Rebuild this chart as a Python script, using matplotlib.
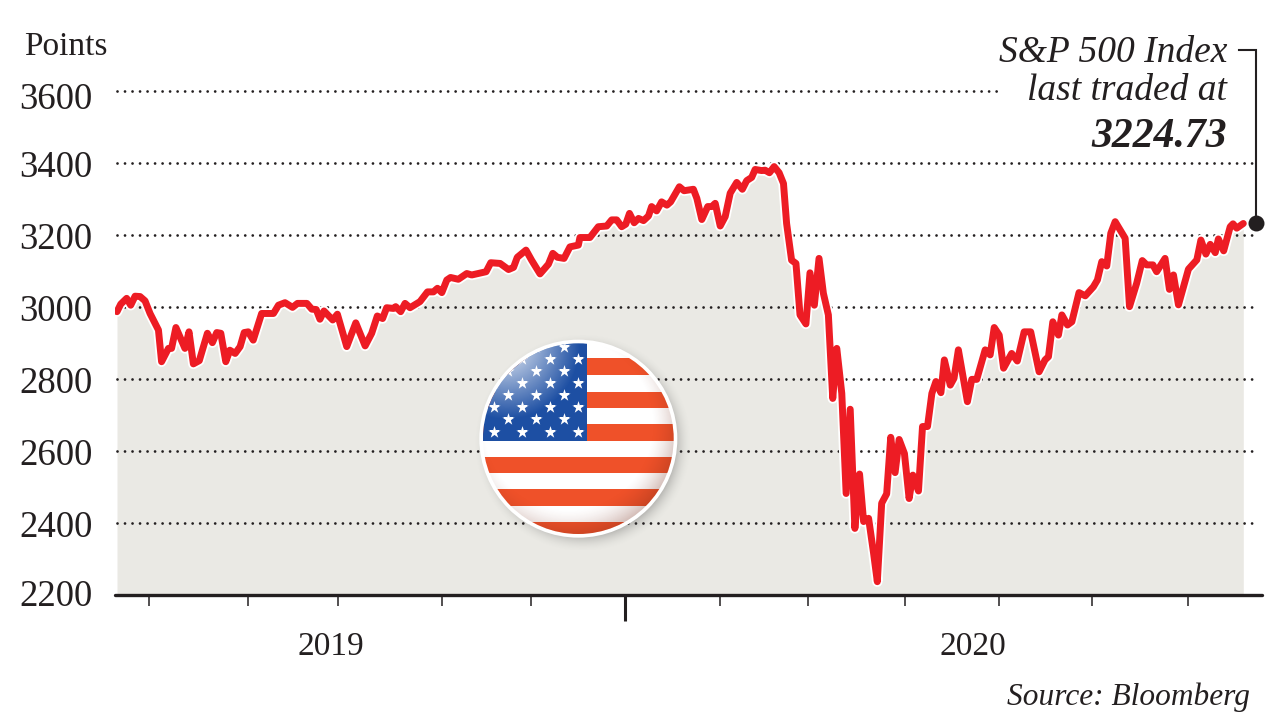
import numpy as np
import matplotlib
matplotlib.use("Agg")
import matplotlib.pyplot as plt
import matplotlib.patheffects as pe
from matplotlib.lines import Line2D
from matplotlib.patches import Circle, Rectangle

# ---- data: days since 22 Jul 2019, index level ----
days = [0,1.2,3.1,4.4,5.8,7.4,9,10.6,13.3,14.3,16.5,17.5,18.9,21.8,23.1,24.5,26.4,29,30.6,32,33.3,34.9,36.2,37.9,39.5,40.8,42.1,43.7,46.4,50.2,51.8,53.9,56.3,57.9,60.9,62.5,63.9,65.1,66.4,69.2,70.7,73.7,76.6,79.6,81.7,83.5,85.2,86.5,88.7,89.4,91,92.4,94,97.2,99.6,101.5,102.8,104.2,105.8,107,109.5,112.2,113.8,118.4,119.9,122.9,125.6,127.2,128.4,131.2,133,135.7,138.4,139.8,141.3,143.4,145.3,148,148.5,151.7,154.4,157.1,158.7,160.3,161.9,163.2,164.4,165.9,167.3,168.9,170.5,171.5,173.1,174.7,176.4,177.6,180.4,181.9,184.9,186,187.6,189.5,190.8,191.9,193.5,195.1,196.7,198.8,200.6,202,203.6,204.7,206.8,207.9,209.3,210.8,212.4,213.8,214.8,216.4,217.8,219.1,221,222.3,223.7,225.2,226.6,228.2,229.6,230.9,232.5,233.9,235.2,236.7,238.2,239.5,241.1,242.7,243.9,245.3,246.9,248.2,249.6,250.9,252.6,254.1,255.3,257.1,258.4,260,261.4,262.7,264.3,265.4,267.3,268.5,269.9,272.8,274.2,275.8,278.5,280.1,281.4,283,284.4,287,288.8,291,293.1,295.8,297.7,298.8,300.2,302,303.1,304.9,306.3,308.6,310.6,313.2,314.5,315.9,317.5,318.8,320.2,323.4,324.8,327.1,328.9,330.3,332.3,333.5,336.2,337.6,338.9,340.5,343.7,346.4,347.7,349.3,350.7,352.3,353.3,355,357.1,358,359.2,361.3]
index_level = [2987,3008,3024,3005,3030,3029,3017,2982,2936,2848,2885,2885,2943,2885,2931,2842,2851,2927,2901,2929,2927,2848,2880,2871,2890,2929,2931,2908,2982,2982,3005,3012,2999,3010,3010,2994,2993,2966,2989,2964,2980,2890,2956,2892,2927,2975,2968,2998,2996,3001,2987,3010,2998,3015,3042,3042,3052,3040,3075,3082,3077,3093,3089,3098,3123,3121,3104,3110,3138,3158,3130,3092,3119,3149,3138,3135,3167,3172,3193,3193,3223,3225,3242,3242,3223,3230,3260,3234,3246,3240,3253,3279,3267,3292,3283,3292,3334,3323,3327,3302,3243,3279,3279,3288,3225,3251,3316,3346,3327,3351,3360,3382,3379,3380,3373,3390,3373,3343,3232,3130,3121,2978,2953,3095,3005,3135,3038,2978,2746,2885,2760,2482,2716,2385,2536,2404,2413,2316,2237,2455,2481,2638,2540,2632,2593,2468,2533,2489,2668,2668,2760,2793,2762,2853,2783,2802,2881,2737,2799,2799,2881,2867,2943,2922,2830,2871,2850,2931,2931,2820,2853,2862,2959,2922,2978,2950,2959,3040,3031,3056,3075,3126,3114,3205,3237,3191,3001,3066,3129,3117,3117,3098,3135,3049,3089,3006,3105,3131,3186,3147,3174,3151,3189,3156,3223,3231,3219,3232]
y_ticks = [2200,2400,2600,2800,3000,3200,3400,3600]
minor_tick_days = [10.3,42,70.9,104.3,132.8,193.5,221.7,252.8,283,312.8,343.6]
major_tick_days = [163]
year_labels = ["2019","2020"]
last_value_text = "3224.73"

W, H = 1280, 720
INK = "#231F20"
RED = "#ED1C24"
SERIF = ["Liberation Serif", "DejaVu Serif"]
plt.rcParams["font.family"] = SERIF
plt.rcParams["lines.scale_dashes"] = False

fig = plt.figure(figsize=(W/100, H/100), dpi=100, facecolor="white")

def fx(x): return x / W
def fy(y): return 1 - y / H

# axes: left 115 px, right 1262 px, bottom 595 px, top 20 px
ax = fig.add_axes([fx(115), fy(595), fx(1262-115), (595-20)/H])
ax.set_xlim(-0.64, 367.3)
ax.set_ylim(2200, 2200 + 575/0.36)
ax.patch.set_alpha(0)
for s in ["top", "left", "right"]:
    ax.spines[s].set_visible(False)
ax.spines["bottom"].set_linewidth(2.4)
ax.spines["bottom"].set_color(INK)
ax.spines["bottom"].set_capstyle("round")
ax.spines["bottom"].set_zorder(6)

ax.fill_between(days, index_level, 2200, color="#EAE9E4", lw=0, zorder=1)

for v in y_ticks[1:]:
    end = 284 if v == 3600 else 365
    ax.plot([0, end], [v, v], color=INK, lw=2.0, linestyle=(0, (0.01, 5.4)),
            dash_capstyle="round", zorder=2)

ax.plot(days, index_level, color=RED, lw=5.0, solid_joinstyle="round",
        solid_capstyle="round", zorder=4,
        path_effects=[pe.Stroke(linewidth=7.6, foreground="white"), pe.Normal()])

ax.set_yticks(y_ticks)
ax.set_yticklabels([])
ax.tick_params(axis="y", length=0)
for v in y_ticks:
    drop = 6.0 if v == 3600 else 3.2
    if v == 2200:
        drop = 1.2
    ax.annotate(str(v), xy=(-0.64, v), xycoords="data", xytext=(-16.3, -drop),
                textcoords="offset points", fontsize=26.5, color=INK, ha="right", va="center")

ax.set_xticks(major_tick_days)
ax.set_xticklabels([])
ax.tick_params(axis="x", which="major", length=19, width=2.2, color=INK)
ax.set_xticks(minor_tick_days, minor=True)
ax.tick_params(axis="x", which="minor", length=8, width=1.1, color=INK)

fig.text(fx(24), fy(47), "Points", fontsize=24, color=INK, ha="left", va="center")
fig.text(fx(331), fy(647), year_labels[0], fontsize=24, color=INK, ha="center", va="center")
fig.text(fx(973), fy(647), year_labels[1], fontsize=24, color=INK, ha="center", va="center")
fig.text(fx(1250), fy(697), "Source: Bloomberg", fontsize=22.6, style="italic", color=INK, ha="right", va="center")
fig.text(fx(1227), fy(53), "S&P 500 Index", fontsize=27, style="italic", color=INK, ha="right", va="center")
fig.text(fx(1227), fy(91), "last traded at", fontsize=27, style="italic", color=INK, ha="right", va="center")
fig.text(fx(1227), fy(137), last_value_text, fontsize=30, style="italic", weight="bold", color=INK, ha="right", va="center")

# leader and dot
fig.add_artist(Line2D([fx(1239), fx(1256), fx(1256)], [fy(50), fy(50), fy(223)],
                      color=INK, lw=1.5, solid_joinstyle="miter"))
fig.add_artist(Line2D([fx(1256)], [fy(223)], marker="o", ms=11.5, color=INK, mew=0))

# ---- flag badge, drawn in its own little pixel space ----
S = 660
fax = fig.add_axes([fx(470), fy(550), 220/W, 220/H])
fax.set_xlim(0, S); fax.set_ylim(S, 0); fax.axis("off"); fax.patch.set_alpha(0)
yy, xx = np.mgrid[0:S, 0:S] + 0.5
cx, cy, R = 325, 326, 297
# soft drop shadow
r_sh = np.hypot(xx - cx - 14, yy - cy - 14)
sh = np.zeros((S, S, 4)); sh[..., :3] = 0.25
sh[..., 3] = np.clip((R + 32 - r_sh) / 60, 0, 1) ** 2 * 0.4
fax.imshow(sh, extent=(0, S, S, 0), zorder=1, interpolation="bilinear")
fax.add_patch(Circle((cx, cy), R, fc="white", ec="none", zorder=2))
clip = Circle((cx, cy), R - 11, transform=fax.transData)

flag_red = "#EF5129"; flag_blue = "#1D4FA3"
stripes = [(38, 85, "w"), (85, 135, "r"), (135, 185, "w"), (185, 233, "r"), (233, 283, "w"),
           (283, 332, "r"), (332, 380, "w"), (380, 430, "r"), (430, 478, "w"), (478, 527, "r"),
           (527, 576, "w"), (576, 620, "r")]
for y0, y1, c in stripes:
    p = Rectangle((0, y0), S, y1 - y0, fc=flag_red if c == "r" else "white", ec="none", zorder=3)
    fax.add_patch(p); p.set_clip_path(clip)
p = Rectangle((0, 0), 350, 332, fc=flag_blue, ec="none", zorder=4)
fax.add_patch(p); p.set_clip_path(clip)
star_rows = {305: [72,156,240,323], 268: [115,198,282], 232: [72,156,240,323], 195: [115,198,282],
             160: [72,156,240,323], 123: [115,198,282], 88: [72,156,240,323], 50: [198,282]}
for ry, cols in star_rows.items():
    s = fax.scatter(cols, [ry]*len(cols), marker="*", s=85, c="white", linewidths=0, zorder=5)
    s.set_clip_path(clip)

# gloss top-left
g = np.zeros((S, S, 4)); g[..., :3] = 1
g[..., 3] = np.clip(1 - np.hypot(xx - 110, yy - 50) / 220, 0, 1) * 0.9
im = fax.imshow(g, extent=(0, S, S, 0), zorder=6, interpolation="bilinear"); im.set_clip_path(clip)
# darker rim lower right
d = np.zeros((S, S, 4)); d[..., :3] = (0.45, 0.15, 0.08)
rim = np.hypot(xx - cx + 30, yy - cy + 40)
d[..., 3] = np.clip((rim - 250) / 120, 0, 1) ** 1.5 * 0.5
im = fax.imshow(d, extent=(0, S, S, 0), zorder=6, interpolation="bilinear"); im.set_clip_path(clip)
fax.set_xlim(0, S); fax.set_ylim(S, 0)

fig.savefig("out.png", dpi=100)
